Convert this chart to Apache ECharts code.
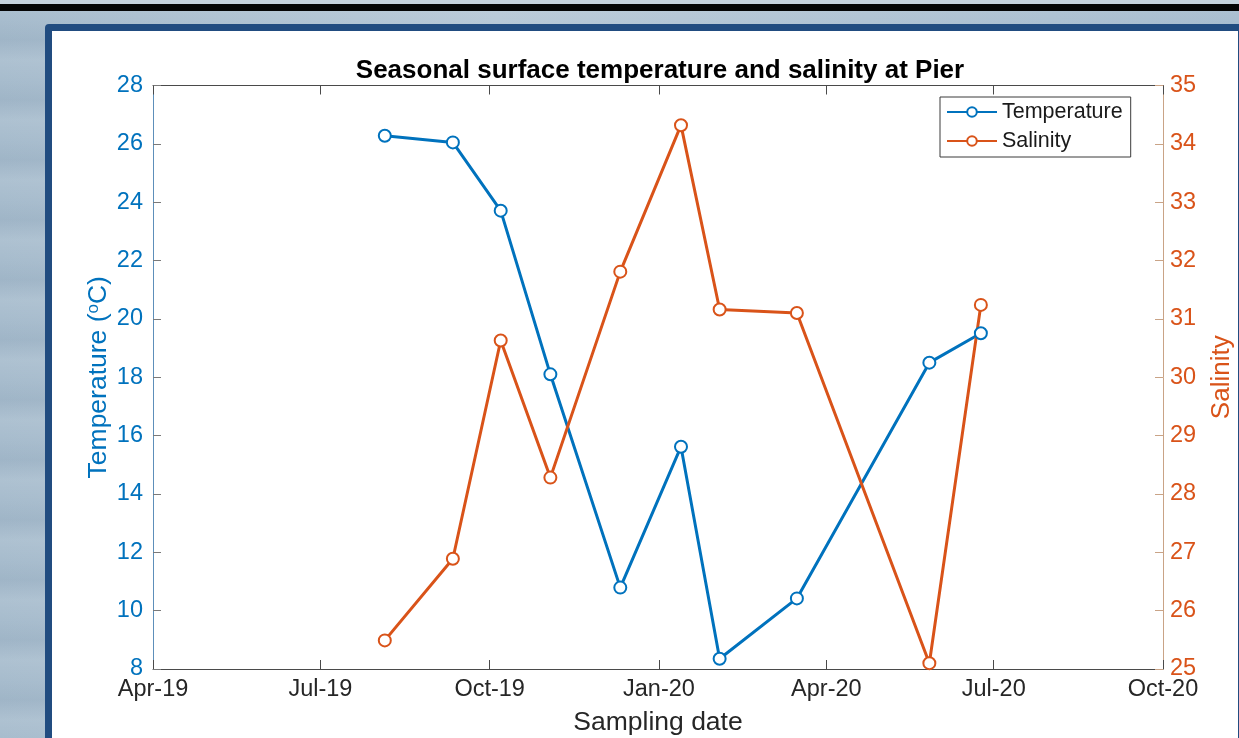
<!DOCTYPE html>
<html>
<head>
<meta charset="utf-8">
<title>Seasonal surface temperature and salinity at Pier</title>
<script src="https://cdn.jsdelivr.net/npm/echarts@6/dist/echarts.min.js"></script>
<style>
  html, body { margin: 0; padding: 0; width: 1239px; height: 738px; overflow: hidden; }
  body {
    position: relative;
    background:
      repeating-linear-gradient(180deg, rgba(255,255,255,0.08) 0px, rgba(255,255,255,0) 20px, rgba(60,90,120,0.07) 40px, rgba(255,255,255,0.08) 60px),
      linear-gradient(90deg, #a7bccd 0%, #b9cad8 40%, #a9bed0 100%);
  }
  .topband { position: absolute; left: 0; top: 0; width: 1239px; height: 4px; background: #c5d2dc; }
  .blackband { position: absolute; left: 0; top: 4px; width: 1239px; height: 7px; background: #050505; }
  .panel {
    position: absolute; left: 45px; top: 24px; width: 1200px; height: 730px;
    background: #fff; border: 7px solid #214c80; border-radius: 4px; box-sizing: border-box;
  }
  #chart { position: absolute; left: 0; top: 0; width: 1239px; height: 738px; }
</style>
</head>
<body>
<div class="topband"></div>
<div class="blackband"></div>
<div class="panel"></div>
<div id="chart"></div>
<script>
// sampling dates and measurements
var sampleDates = ['2019-08-05', '2019-09-11', '2019-10-07', '2019-11-03', '2019-12-11',
  '2020-01-13', '2020-02-03', '2020-03-16', '2020-05-27', '2020-06-24']
var temperature = [26.28, 26.05, 23.71, 18.10, 10.79, 15.62, 8.35, 10.42, 18.50, 19.51]
var salinity = [25.49, 26.89, 30.63, 28.28, 31.81, 34.32, 31.16, 31.10, 25.10, 31.24]

// quarter ticks on the date axis
var tickDates = ['2019-04-01', '2019-07-01', '2019-10-01', '2020-01-01', '2020-04-01', '2020-07-01', '2020-10-01']
var tickLabels = ['Apr-19', 'Jul-19', 'Oct-19', 'Jan-20', 'Apr-20', 'Jul-20', 'Oct-20']

function toTime(s) {
  var p = s.split('-')
  return Date.UTC(+p[0], +p[1] - 1, +p[2])
}
var tickTimes = tickDates.map(toTime)
var BLUE = '#0072BD'
var ORANGE = '#D95319'
var FONT = 'Liberation Sans, Arial, Helvetica, sans-serif'

function pairs(values) {
  return sampleDates.map(function (d, i) { return [toTime(d), values[i]] })
}

var chart = echarts.init(document.getElementById('chart'))
chart.setOption({
  animation: false,
  textStyle: { fontFamily: FONT },
  title: {
    text: 'Seasonal surface temperature and salinity at Pier',
    left: 655,
    textAlign: 'center',
    top: 53,
    textStyle: { fontSize: 26, fontWeight: 'bold', color: '#000', fontFamily: FONT }
  },
  legend: {
    orient: 'vertical',
    left: 940,
    top: 97,
    padding: [4, 8, 5, 6],
    itemWidth: 50,
    itemHeight: 12,
    itemGap: 7,
    backgroundColor: '#fff',
    borderColor: '#3a3a3a',
    borderWidth: 1,
    textStyle: { fontSize: 21.5, color: '#1a1a1a', fontFamily: FONT },
    data: ['Temperature', 'Salinity']
  },
  grid: { left: 153, right: 76, top: 85.5, bottom: 69, outerBoundsMode: 'none' },
  xAxis: [
    {
      type: 'value',
      min: tickTimes[0],
      max: tickTimes[tickTimes.length - 1],
      name: 'Sampling date',
      nameLocation: 'middle',
      nameGap: 40,
      nameTextStyle: { fontSize: 26.5, color: '#262626', fontFamily: FONT },
      axisLine: { lineStyle: { color: '#4a4a4a', width: 1 } },
      axisTick: { inside: true, length: 9, customValues: tickTimes, lineStyle: { color: '#4a4a4a' } },
      axisLabel: {
        customValues: tickTimes,
        margin: 9,
        fontSize: 23.5,
        color: '#262626',
        formatter: function (value) {
          var i = tickTimes.indexOf(value)
          return i >= 0 ? tickLabels[i] : ''
        }
      },
      splitLine: { show: false }
    },
    {
      type: 'value',
      position: 'top',
      min: tickTimes[0],
      max: tickTimes[tickTimes.length - 1],
      axisLine: { lineStyle: { color: '#4a4a4a', width: 1 } },
      axisTick: { inside: true, length: 9, customValues: tickTimes, lineStyle: { color: '#4a4a4a' } },
      axisLabel: { show: false },
      splitLine: { show: false }
    }
  ],
  yAxis: [
    {
      type: 'value',
      position: 'left',
      min: 8,
      max: 28,
      interval: 2,
      name: 'Temperature ({sup|o}C)',
      nameLocation: 'middle',
      nameRotate: 90,
      nameGap: 41,
      nameMoveOverlap: false,
      nameTextStyle: {
        fontSize: 26.5,
        color: BLUE,
        fontFamily: FONT,
        rich: { sup: { fontSize: 17, color: BLUE, verticalAlign: 'top', fontFamily: FONT } }
      },
      axisLine: { show: true, lineStyle: { color: '#5d8fba', width: 1 } },
      axisTick: { show: true, inside: true, length: 8, lineStyle: { color: '#7a7a7a' } },
      axisLabel: { margin: 10, fontSize: 23.5, color: BLUE },
      splitLine: { show: false }
    },
    {
      type: 'value',
      position: 'right',
      min: 25,
      max: 35,
      interval: 1,
      name: 'Salinity',
      nameLocation: 'middle',
      nameRotate: 90,
      nameGap: 46,
      nameMoveOverlap: false,
      nameTextStyle: { fontSize: 26, color: ORANGE, fontFamily: FONT },
      axisLine: { show: true, lineStyle: { color: '#c9a386', width: 1 } },
      axisTick: { show: true, inside: true, length: 8, lineStyle: { color: '#c9a386' } },
      axisLabel: { margin: 7, fontSize: 23.5, color: ORANGE },
      splitLine: { show: false }
    }
  ],
  series: [
    {
      name: 'Temperature',
      type: 'line',
      xAxisIndex: 0,
      yAxisIndex: 0,
      data: pairs(temperature),
      symbol: 'emptyCircle',
      symbolSize: 12,
      lineStyle: { color: BLUE, width: 3 },
      itemStyle: { color: BLUE, borderColor: BLUE, borderWidth: 2.6 }
    },
    {
      name: 'Salinity',
      type: 'line',
      xAxisIndex: 0,
      yAxisIndex: 1,
      data: pairs(salinity),
      symbol: 'emptyCircle',
      symbolSize: 12,
      lineStyle: { color: ORANGE, width: 3 },
      itemStyle: { color: ORANGE, borderColor: ORANGE, borderWidth: 2.6 }
    }
  ]
})
</script>
</body>
</html>
